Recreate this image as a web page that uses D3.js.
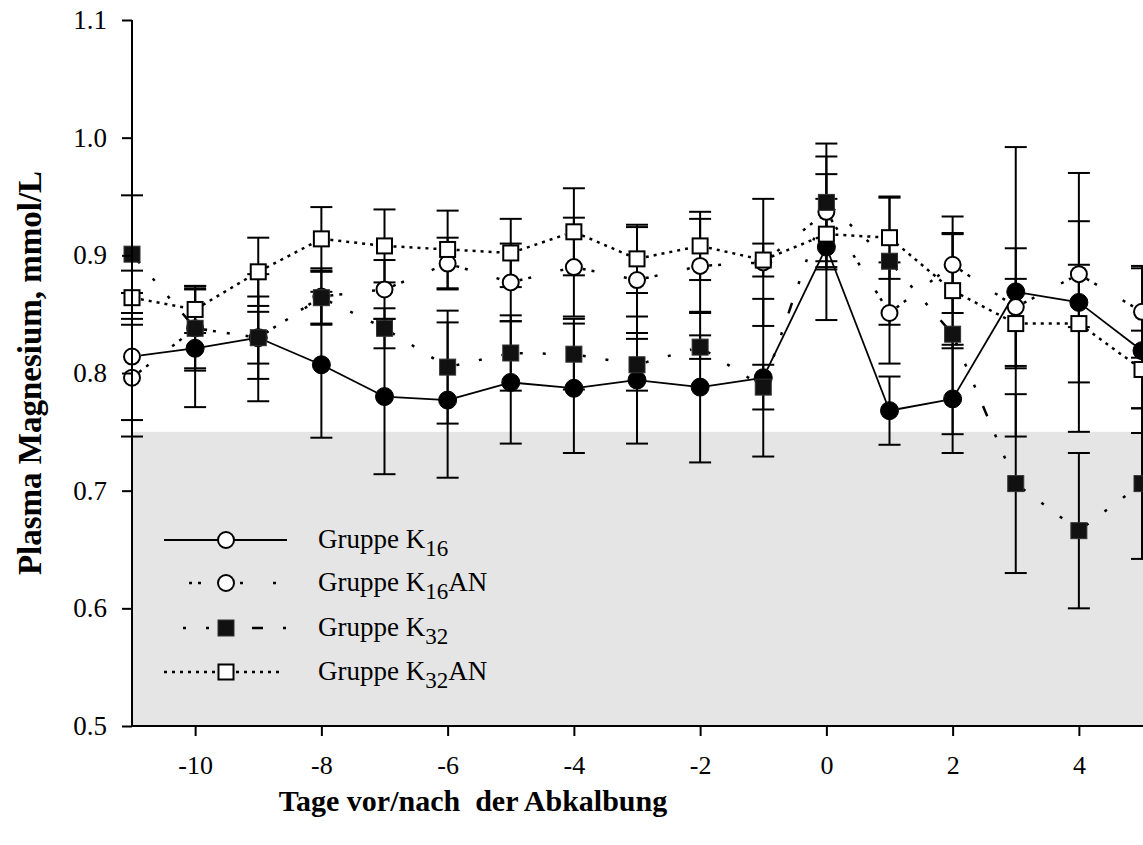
<!DOCTYPE html>
<html>
<head>
<meta charset="utf-8">
<script src="https://cdn.jsdelivr.net/npm/d3@7"></script>
<style>
  html, body { margin: 0; padding: 0; background: #fff; }
  svg { display: block; }
  svg text { font-family: "Liberation Serif", "Times New Roman", Times, serif; fill: #000; }
</style>
</head>
<body>
<svg id="chart" width="1143" height="845"></svg>
<script>
// days before/after calving
const days = [-11, -10, -9, -8, -7, -6, -5, -4, -3, -2, -1, 0, 1, 2, 3, 4, 5];
const xTicks = [-10, -8, -6, -4, -2, 0, 2, 4];
const yTicks = [0.5, 0.6, 0.7, 0.8, 0.9, 1.0, 1.1];

const k16 = [0.814, 0.821, 0.830, 0.807, 0.780, 0.777, 0.792, 0.787, 0.794, 0.788, 0.796, 0.907, 0.768, 0.778, 0.869, 0.860, 0.819];
const k16Sd = [0.054, 0.050, 0.054, 0.062, 0.066, 0.066, 0.052, 0.055, 0.054, 0.064, 0.067, 0.062, 0.029, 0.046, 0.123, 0.110, 0.070];
const k16an = [0.796, 0.838, 0.830, 0.865, 0.871, 0.893, 0.877, 0.890, 0.879, 0.891, 0.894, 0.937, 0.851, 0.892, 0.856, 0.884, 0.852];
const k16anSd = [0.050, 0.036, 0.035, 0.024, 0.025, 0.022, 0.033, 0.042, 0.045, 0.040, 0.054, 0.047, 0.043, 0.041, 0.050, 0.045, 0.039];
const k32 = [0.901, 0.838, 0.830, 0.864, 0.838, 0.805, 0.817, 0.816, 0.807, 0.822, 0.788, 0.945, 0.895, 0.833, 0.706, 0.666, 0.706];
const k32Sd = [0.050, 0.034, 0.022, 0.022, 0.017, 0.048, 0.032, 0.030, 0.022, 0.010, 0.019, 0.050, 0.054, 0.085, 0.076, 0.066, 0.064];
const k32an = [0.864, 0.854, 0.886, 0.914, 0.908, 0.905, 0.902, 0.920, 0.897, 0.908, 0.896, 0.918, 0.915, 0.870, 0.842, 0.842, 0.803];
const k32anSd = [0.023, 0.020, 0.029, 0.027, 0.031, 0.033, 0.029, 0.037, 0.029, 0.029, 0.014, 0.030, 0.035, 0.049, 0.038, 0.050, 0.033];

const refLow = 0.75; // lower reference limit, shaded below

const series = [
  { name: 'K', sub: '16', suffix: '', values: k16, sd: k16Sd, shape: 'circle', fill: '#000', dash: null },
  { name: 'K', sub: '16', suffix: 'AN', values: k16an, sd: k16anSd, shape: 'circle', fill: '#fff', dash: '3,6,3,30' },
  { name: 'K', sub: '32', suffix: '', values: k32, sd: k32Sd, shape: 'square', fill: '#111', dash: '3,20,3,20,3,20,11,20' },
  { name: 'K', sub: '32', suffix: 'AN', values: k32an, sd: k32anSd, shape: 'square', fill: '#fff', dash: '3,5' }
];

const svg = d3.select('#chart');
const x = d3.scaleLinear().domain([-11, 5]).range([132, 1142]);
const y = d3.scaleLinear().domain([0.5, 1.1]).range([726, 20]);

// shaded area below reference value
svg.append('rect')
  .attr('x', x(-11))
  .attr('y', y(refLow))
  .attr('width', 1143 - x(-11))
  .attr('height', y(0.5) - y(refLow))
  .attr('fill', '#e5e5e5');

// error bars
const gErr = svg.append('g').attr('stroke', '#000').attr('stroke-width', 2);
series.forEach((s) => {
  s.values.forEach((v, i) => {
    const cx = x(days[i]);
    const top = y(v + s.sd[i]);
    const bot = y(v - s.sd[i]);
    gErr.append('line').attr('x1', cx).attr('x2', cx).attr('y1', top).attr('y2', bot);
    gErr.append('line').attr('x1', cx - 11).attr('x2', cx + 11).attr('y1', top).attr('y2', top);
    gErr.append('line').attr('x1', cx - 11).attr('x2', cx + 11).attr('y1', bot).attr('y2', bot);
  });
});

// connecting lines, one segment per pair so the dash pattern restarts
const gLines = svg.append('g').attr('fill', 'none').attr('stroke', '#000');
series.forEach((s) => {
  const pts = s.values.map((v, i) => [x(days[i]), y(v)]);
  for (let i = 0; i < pts.length - 1; i += 1) {
    const [x1, y1] = pts[i];
    const [x2, y2] = pts[i + 1];
    const len = Math.hypot(x2 - x1, y2 - y1);
    const ux = (x2 - x1) / len;
    const uy = (y2 - y1) / len;
    const gap = 9;
    if (len <= gap * 2) continue;
    gLines.append('line')
      .attr('x1', x1 + ux * gap).attr('y1', y1 + uy * gap)
      .attr('x2', x2 - ux * gap).attr('y2', y2 - uy * gap)
      .attr('stroke-width', s.dash ? 2.5 : 1.8)
      .attr('stroke-dasharray', s.dash);
  }
});

function drawMarker(g, shape, cx, cy, fill) {
  const filled = fill !== '#fff';
  if (shape === 'circle') {
    g.append('circle')
      .attr('cx', cx).attr('cy', cy)
      .attr('r', filled ? 9 : 8)
      .attr('fill', fill)
      .attr('stroke', '#000')
      .attr('stroke-width', filled ? 1 : 2);
  } else {
    const size = filled ? 16 : 15;
    g.append('rect')
      .attr('x', cx - size / 2).attr('y', cy - size / 2)
      .attr('width', size).attr('height', size)
      .attr('fill', fill)
      .attr('stroke', filled ? '#333' : '#000')
      .attr('stroke-width', filled ? 1 : 2);
  }
}

// markers (the first point of K16 is drawn open, as in the original)
const gMarks = svg.append('g');
series.forEach((s, si) => {
  s.values.forEach((v, i) => {
    const fill = si === 0 && i === 0 ? '#fff' : s.fill;
    drawMarker(gMarks, s.shape, x(days[i]), y(v), fill);
  });
});

// axes
const yAxis = svg.append('g')
  .attr('transform', `translate(${x(-11)},0)`)
  .call(d3.axisLeft(y).tickValues(yTicks).tickFormat(d3.format('.1f')).tickSize(10).tickPadding(15));
yAxis.attr('font-family', null).attr('font-size', null);
yAxis.select('.domain').attr('d', `M0,${y(1.1)}V${y(0.5)}`).attr('stroke-width', 2);
yAxis.selectAll('.tick line').attr('stroke-width', 2);
yAxis.selectAll('.tick text').style('font-size', '27px');

const xAxis = svg.append('g')
  .attr('transform', `translate(0,${y(0.5)})`)
  .call(d3.axisBottom(x).tickValues(xTicks).tickFormat(d3.format('d')).tickSize(10).tickPadding(20));
xAxis.attr('font-family', null).attr('font-size', null);
xAxis.select('.domain').attr('d', `M${x(-11)},0H1143`).attr('stroke-width', 2);
xAxis.selectAll('.tick line').attr('stroke-width', 2);
xAxis.selectAll('.tick text').style('font-size', '26px')
  .text((d) => (d < 0 ? '-' + Math.abs(d) : d));

// axis titles
svg.append('text')
  .attr('x', 473).attr('y', 811)
  .attr('text-anchor', 'middle')
  .style('font-size', '30px').style('font-weight', 'bold')
  .text('Tage vor/nach\u00a0 der Abkalbung');

svg.append('text')
  .attr('transform', `translate(41,${(y(1.1) + y(0.5)) / 2}) rotate(-90)`)
  .attr('text-anchor', 'middle')
  .style('font-size', '33px').style('font-weight', 'bold')
  .text('Plasma Magnesium, mmol/L');

// legend
const legendRows = [540, 583, 628, 672];
const legendSpans = [[164, 287], [189, 280], [183, 287], [164, 284]];
const gLeg = svg.append('g');
series.forEach((s, i) => {
  const ly = legendRows[i];
  gLeg.append('line')
    .attr('x1', legendSpans[i][0]).attr('x2', legendSpans[i][1])
    .attr('y1', ly).attr('y2', ly)
    .attr('stroke', '#000')
    .attr('stroke-width', s.dash ? 2.5 : 1.8)
    .attr('stroke-dasharray', s.dash);
  // legend symbol: K16 is shown with an open circle
  drawMarker(gLeg, s.shape, 226, ly, i === 0 ? '#fff' : s.fill);
  const t = gLeg.append('text')
    .attr('x', 318).attr('y', ly + 8)
    .style('font-size', '27px');
  t.append('tspan').text('Gruppe ' + s.name);
  t.append('tspan').attr('dy', 8).style('font-size', '23px').text(s.sub);
  if (s.suffix) t.append('tspan').attr('dy', -8).style('font-size', '27px').text(s.suffix);
});
</script>
</body>
</html>
